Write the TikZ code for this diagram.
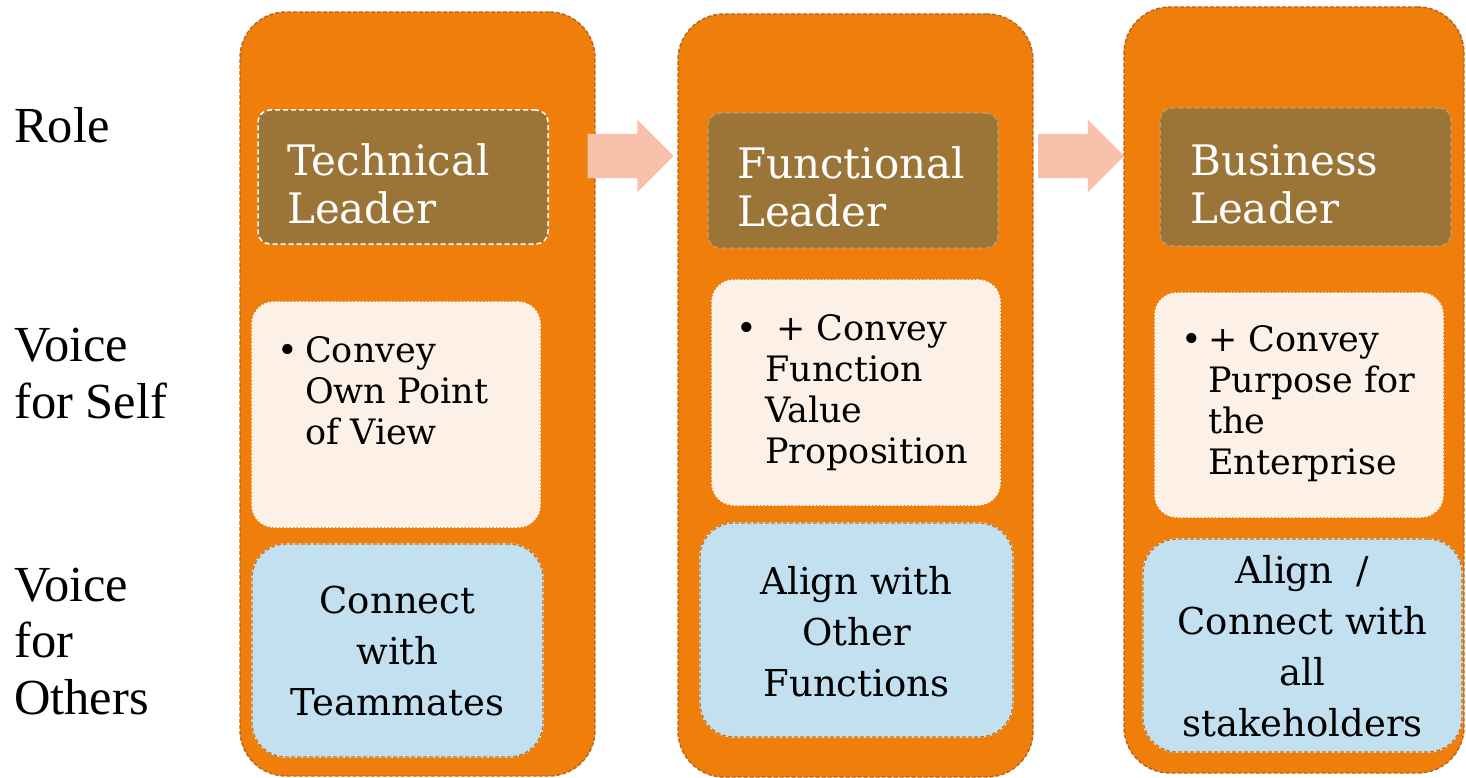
\documentclass[tikz,border=0pt]{standalone}
\usepackage{fontspec}
\setmainfont{DejaVu Serif}
\newfontfamily\labelfont{Liberation Serif}
\usetikzlibrary{shapes.arrows}
\definecolor{orangeC}{HTML}{EF7F0A}
\definecolor{brownB}{HTML}{B5651D}
\definecolor{roleFill}{HTML}{9B7438}
\definecolor{roleEdge}{HTML}{C49A62}
\definecolor{selfFill}{HTML}{FDF0E6}
\definecolor{blueFill}{HTML}{C3E0F0}
\definecolor{blueEdge}{HTML}{B8732E}
\definecolor{arrowC}{HTML}{F7C1AB}
\tikzset{
  outerbox/.style={rounded corners=46pt, fill=orangeC, draw=brownB, line width=1.4pt,
    dash pattern=on 4pt off 2pt, preaction={draw=white, solid, line width=1.4pt},
    inner sep=0pt},
  rolebox/.style={rounded corners=12pt, fill=roleFill, line width=1.5pt,
    dash pattern=on 5pt off 3pt, inner sep=0pt},
  selfbox/.style={rounded corners=22pt, fill=selfFill, draw=white, line width=1.5pt,
    dash pattern=on 2pt off 1.5pt, inner sep=0pt},
  bluebox/.style={rounded corners=34pt, fill=blueFill, draw=blueEdge, line width=1.3pt,
    dash pattern=on 4pt off 2pt, preaction={draw=white, solid, line width=1.3pt},
    inner sep=0pt},
  blockarrow/.style={single arrow, fill=arrowC, draw=none, minimum height=86pt,
    inner xsep=0pt, inner ysep=22pt, single arrow head extend=14pt},
  rowlabel/.style={anchor=base west, inner sep=0pt, align=left,
    font=\labelfont\fontsize{50.5}{56.5}\selectfont},
  roletext/.style={anchor=base west, inner sep=0pt, align=left, text=white,
    font=\fontsize{42}{48}\selectfont},
  selftext/.style={anchor=base west, inner sep=0pt, align=left,
    font=\fontsize{35}{41}\selectfont},
  bullettext/.style={anchor=base, inner sep=0pt, font=\fontsize{35}{41}\selectfont},
  bluetext/.style={anchor=base, inner sep=0pt, align=center,
    font=\fontsize{37}{51}\selectfont},
}
\begin{document}
\begin{tikzpicture}[x=1pt,y=-1pt]
\useasboundingbox (0,0) rectangle (1466,778);

% outer columns
\node[outerbox, minimum width=355pt, minimum height=764pt] (col1) at (417.5,394) {};
\node[outerbox, minimum width=355pt, minimum height=763pt] (col2) at (855.5,395.5) {};
\node[outerbox, minimum width=340pt, minimum height=766pt] (col3) at (1294,390) {};

% arrows
\node[blockarrow] (arr1) at (619.5,156) {};
\node[blockarrow] (arr2) at (1070,156) {};

% role boxes
\node[rolebox, draw=white, minimum width=290pt, minimum height=134pt] (role1) at (403,177) {};
\node[rolebox, draw=roleEdge, minimum width=290pt, minimum height=135pt] (role2) at (853,180.5) {};
\node[rolebox, draw=roleEdge, minimum width=291pt, minimum height=138pt] (role3) at (1305.5,177) {};

% voice-for-self boxes
\node[selfbox, minimum width=288pt, minimum height=225pt] (self1) at (396,414.5) {};
\node[selfbox, minimum width=288pt, minimum height=225pt] (self2) at (856,392.5) {};
\node[selfbox, minimum width=288pt, minimum height=224pt] (self3) at (1299,405) {};

% voice-for-others boxes
\node[bluebox, minimum width=291pt, minimum height=213pt] (blue1) at (397.5,650.5) {};
\node[bluebox, minimum width=313pt, minimum height=214pt] (blue2) at (856.5,630) {};
\node[bluebox, minimum width=319pt, minimum height=213pt] (blue3) at (1302.5,645.5) {};

% row labels (anchored on the baseline of the last line)
\node[rowlabel] (lblrole) at (14,143) {Role};
\node[rowlabel] (lblself) at (14,418) {Voice\\for Self};
\node[rowlabel] (lblothers) at (14,714) {Voice\\for\\Others};

% role texts
\node[roletext] (t1) at (287,223) {Technical\\Leader};
\node[roletext] (t2) at (737,226) {Functional\\Leader};
\node[roletext] (t3) at (1190,223) {Business\\Leader};

% self texts
\node[bullettext] (b1) at (288,362) {•};
\node[selftext] (s1) at (305,444) {Convey\\Own Point\\of View};
\node[bullettext] (b2) at (747,340) {•};
\node[selftext] (s2) at (765,463) {\hspace*{11pt}+ Convey\\Function\\Value\\Proposition};
\node[bullettext] (b3) at (1192,351) {•};
\node[selftext] (s3) at (1208,474) {+ Convey\\Purpose for\\the\\Enterprise};

% others texts
\node[bluetext] (o1) at (397.5,715) {Connect\\with\\Teammates};
\node[bluetext] (o2) at (856.5,696) {Align with\\Other\\Functions};
\node[bluetext] (o3) at (1302.5,736) {Align~~/\\Connect with\\all\\stakeholders};
\end{tikzpicture}
\end{document}
